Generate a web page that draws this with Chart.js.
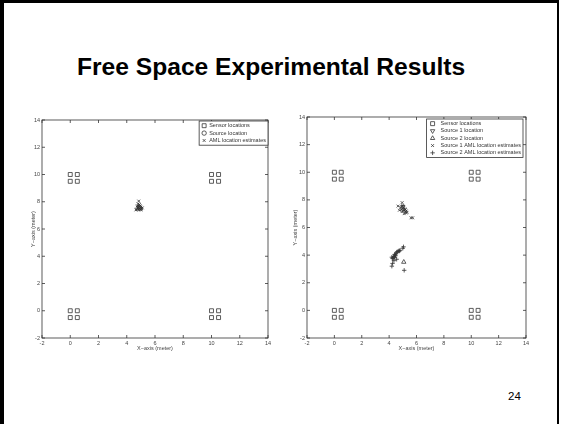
<!DOCTYPE html>
<html>
<head>
<meta charset="utf-8">
<script src="https://cdn.jsdelivr.net/npm/chart.js@4.4.1/dist/chart.umd.min.js"></script>
<style>
  body { margin: 0; background: #fff; width: 563px; height: 424px; overflow: hidden; position: relative;
         font-family: "Liberation Sans", Arial, sans-serif; }
  #frame { position: absolute; left: 0; top: 0; width: 553px; height: 440px;
           border-left: 4px solid #000; border-top: 3px solid #000; border-right: 2px solid #000; }
  h1 { position: absolute; left: 77px; top: 53px; margin: 0; font-size: 24.6px; font-weight: bold; white-space: nowrap; }
  #page { position: absolute; left: 508px; top: 390px; font-size: 11.5px; }
  canvas { position: absolute; }
</style>
</head>
<body>
<div id="frame"></div>
<h1>Free Space Experimental Results</h1>
<canvas id="left" style="left:20px;top:110px" width="260" height="244"></canvas>
<canvas id="right" style="left:280px;top:110px" width="270" height="244"></canvas>
<div id="page">24</div>
<script>
// axis ticks (both plots)
const axisTicks = [-2, 0, 2, 4, 6, 8, 10, 12, 14];

// sensor positions (same in both experiments)
const sensorX = [0, 0.5, 0, 0.5, 10, 10.5, 10, 10.5, 0, 0.5, 0, 0.5, 10, 10.5, 10, 10.5];
const sensorY = [10, 10, 9.5, 9.5, 10, 10, 9.5, 9.5, 0, 0, -0.5, -0.5, 0, 0, -0.5, -0.5];

// left plot: one source
const sourceX = [4.9];
const sourceY = [7.6];
const amlX = [4.85, 4.80, 4.90, 4.75, 4.85, 4.95, 5.00, 4.80, 4.90, 5.05, 4.70, 4.85, 5.00, 4.95, 4.75, 5.10, 4.90, 4.80, 4.65, 5.00];
const amlY = [8.05, 7.85, 7.80, 7.70, 7.65, 7.70, 7.60, 7.55, 7.50, 7.50, 7.45, 7.40, 7.45, 7.55, 7.60, 7.55, 7.65, 7.45, 7.40, 7.40];

// right plot: two sources
const source1X = [5.0];
const source1Y = [7.5];
const source2X = [5.07];
const source2Y = [3.5];
const aml1X = [4.65, 4.95, 4.85, 4.90, 5.00, 5.05, 5.10, 5.15, 5.20, 5.25, 5.30, 5.05, 5.20, 5.10, 4.75, 4.95, 5.25, 5.60, 5.72, 5.00];
const aml1Y = [7.55, 7.80, 7.45, 7.30, 7.60, 7.40, 7.25, 7.35, 7.15, 7.20, 7.10, 7.20, 7.30, 7.00, 7.25, 7.15, 7.05, 6.70, 6.70, 7.50];
const aml2X = [4.20, 4.25, 4.30, 4.35, 4.40, 4.45, 4.50, 4.55, 4.60, 4.70, 4.75, 4.80, 5.00, 5.05, 4.55, 4.35, 4.25, 4.20, 4.45, 5.10, 4.40];
const aml2Y = [3.85, 3.75, 3.80, 3.90, 3.85, 4.00, 4.10, 4.20, 4.25, 4.30, 4.30, 4.35, 4.50, 4.60, 3.70, 3.60, 3.40, 3.20, 3.95, 2.90, 4.05];

const ink = '#333';
const pts = (xs, ys) => xs.map((x, i) => ({ x: x, y: ys[i] }));

function marker(label, data, style, radius, rotation) {
    return {
        label: label,
        data: data,
        pointStyle: style,
        pointRadius: radius,
        pointRotation: rotation || 0,
        pointBorderWidth: 0.8,
        borderColor: ink,
        pointBorderColor: ink,
        backgroundColor: 'rgba(0,0,0,0)',
        pointBackgroundColor: 'rgba(0,0,0,0)',
        pointHoverRadius: radius,
        showLine: false
    };
}

// MATLAB-style box with inward ticks
const boxPlugin = {
    id: 'box',
    afterDatasetsDraw(chart) {
        const { ctx, chartArea: a, scales } = chart;
        ctx.save();
        ctx.strokeStyle = ink;
        ctx.lineWidth = 0.8;
        ctx.strokeRect(a.left, a.top, a.right - a.left, a.bottom - a.top);
        ctx.beginPath();
        axisTicks.forEach(v => {
            const px = scales.x.getPixelForValue(v);
            const py = scales.y.getPixelForValue(v);
            ctx.moveTo(px, a.bottom); ctx.lineTo(px, a.bottom - 3);
            ctx.moveTo(px, a.top); ctx.lineTo(px, a.top + 3);
            ctx.moveTo(a.left, py); ctx.lineTo(a.left + 3, py);
            ctx.moveTo(a.right, py); ctx.lineTo(a.right - 3, py);
        });
        ctx.stroke();
        ctx.restore();
    }
};

// legend box in upper right corner of the axes
const legendPlugin = {
    id: 'boxLegend',
    afterDraw(chart, args, opts) {
        const { ctx, chartArea: a } = chart;
        const sets = chart.data.datasets;
        ctx.save();
        ctx.font = '5.5px "Liberation Sans", Arial, sans-serif';
        const tw = Math.max(...sets.map(d => ctx.measureText(d.label).width));
        const w = opts.textX + tw + 2;
        const h = sets.length * opts.row + 2;
        const left = a.right - opts.inset - w;
        const top = a.top + opts.insetTop;
        ctx.fillStyle = '#fff';
        ctx.fillRect(left, top, w, h);
        ctx.strokeStyle = ink;
        ctx.lineWidth = 0.8;
        ctx.strokeRect(left, top, w, h);
        ctx.textBaseline = 'middle';
        sets.forEach((d, i) => {
            const y = top + 1 + opts.row * (i + 0.5);
            ctx.strokeStyle = ink;
            ctx.fillStyle = 'rgba(0,0,0,0)';
            Chart.helpers.drawPoint(ctx, {
                pointStyle: d.pointStyle, radius: d.pointRadius, rotation: d.pointRotation, borderWidth: 0.8
            }, left + opts.markX, y);
            ctx.fillStyle = ink;
            ctx.fillText(d.label, left + opts.textX, y);
        });
        ctx.restore();
    }
};

function axis(pos, width, titleText, titlePad) {
    return {
        type: 'linear',
        position: pos,
        min: -2, max: 14,
        afterBuildTicks: s => { s.ticks = axisTicks.map(v => ({ value: v })); },
        afterFit: s => { if (pos === 'left') s.width = width; else s.height = width; },
        grid: { display: false, drawTicks: false },
        border: { display: false },
        ticks: { font: { size: 5.5 }, color: '#444', padding: 2, maxRotation: 0, autoSkip: false },
        title: { display: true, text: titleText, font: { size: 5.5 }, color: '#444', padding: titlePad }
    };
}

function makeChart(id, datasets, padding, yWidth, yTitlePad, legendOpts) {
    new Chart(document.getElementById(id), {
        type: 'scatter',
        data: { datasets: datasets },
        options: {
            responsive: false,
            animation: false,
            events: [],
            layout: { padding: padding },
            plugins: { legend: { display: false }, tooltip: { enabled: false }, boxLegend: legendOpts },
            scales: {
                x: axis('bottom', 16, 'X\u2212axis (meter)', { top: 0, bottom: 2 }),
                y: axis('left', yWidth, 'Y\u2212axis (meter)', { top: yTitlePad, bottom: 0 })
            }
        },
        plugins: [boxPlugin, legendPlugin]
    });
}

makeChart('left', [
    marker('Sensor locations', pts(sensorX, sensorY), 'rect', 2.8),
    marker('Source location', pts(sourceX, sourceY), 'circle', 2.2),
    marker('AML location estimates', pts(amlX, amlY), 'crossRot', 2)
], { left: 0, top: 10, right: 12, bottom: 0 }, 22, 10,
   { row: 7.4, textX: 10, markX: 5, inset: 0, insetTop: 1 });

makeChart('right', [
    marker('Sensor locations', pts(sensorX, sensorY), 'rect', 2.8),
    marker('Source 1 location', pts(source1X, source1Y), 'triangle', 2.5, 180),
    marker('Source 2 location', pts(source2X, source2Y), 'triangle', 2.5),
    marker('Source 1 AML location estimates', pts(aml1X, aml1Y), 'crossRot', 2),
    marker('Source 2 AML location estimates', pts(aml2X, aml2Y), 'cross', 2.2)
], { left: 0, top: 7, right: 24, bottom: 0 }, 27, 12,
   { row: 7.3, textX: 14, markX: 6, inset: 3, insetTop: 2 });
</script>
</body>
</html>
